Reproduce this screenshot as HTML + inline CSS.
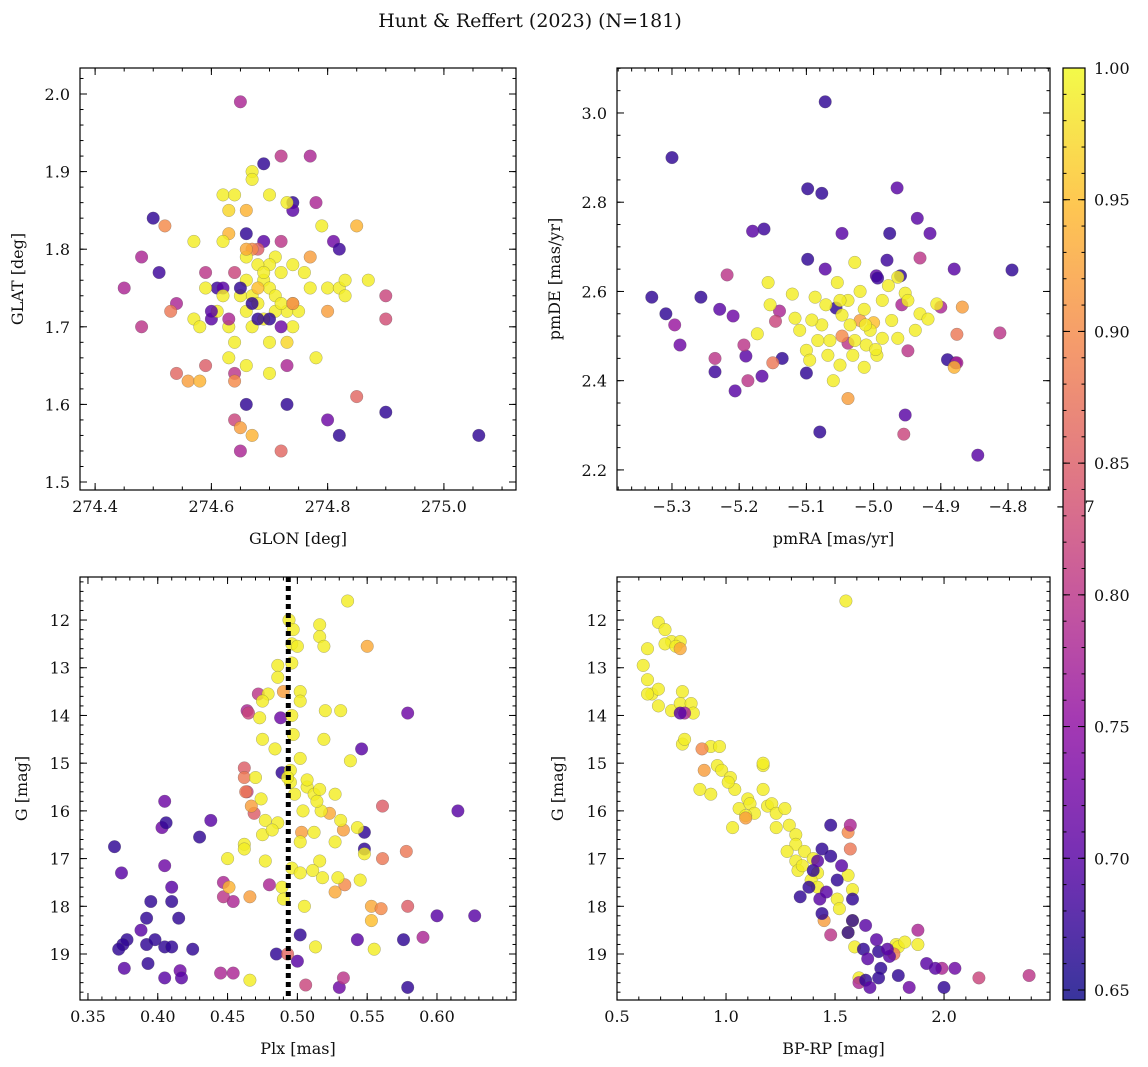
<!DOCTYPE html>
<html><head><meta charset="utf-8"><style>
html,body{margin:0;padding:0;background:#fff;}
svg{display:block;font-family:"DejaVu Serif","Liberation Serif",serif;}
</style></head><body>
<svg id="fig" width="1148" height="1067" viewBox="0 0 1148 1067" xmlns="http://www.w3.org/2000/svg">
<text x="530" y="27" font-size="19" text-anchor="middle" fill="#111">Hunt &amp; Reffert (2023) (N=181)</text>
</svg>
<script>
// ---- data (value arrays) ----
const glonGlat = [[274.65,1.99,0.78],[274.69,1.91,0.67],[274.72,1.92,0.80],[274.77,1.92,0.78],[274.74,1.86,0.67],[274.74,1.85,0.70],[274.78,1.86,0.78],[274.50,1.84,0.67],[274.52,1.83,0.90],[274.48,1.79,0.78],[274.45,1.75,0.78],[274.48,1.70,0.80],[274.51,1.77,0.68],[274.54,1.73,0.78],[274.53,1.72,0.88],[274.59,1.77,0.80],[274.61,1.75,0.68],[274.62,1.75,0.70],[274.60,1.71,0.70],[274.59,1.65,0.85],[274.54,1.64,0.86],[274.56,1.63,0.92],[274.58,1.63,0.94],[274.64,1.64,0.80],[274.64,1.63,0.90],[274.66,1.60,0.67],[274.64,1.58,0.82],[274.65,1.57,0.92],[274.67,1.56,0.94],[274.65,1.54,0.78],[274.72,1.54,0.86],[274.73,1.60,0.67],[274.73,1.65,0.78],[274.80,1.58,0.72],[274.82,1.56,0.67],[274.85,1.61,0.86],[274.90,1.59,0.67],[275.06,1.56,0.67],[274.90,1.71,0.83],[274.90,1.74,0.82],[274.85,1.83,0.94],[274.81,1.81,0.72],[274.82,1.80,0.68],[274.80,1.72,0.92],[274.77,1.79,0.92],[274.66,1.82,0.67],[274.69,1.81,0.70],[274.72,1.81,0.80],[274.68,1.80,0.85],[274.67,1.80,0.90],[274.66,1.85,0.94],[274.63,1.82,0.94],[274.63,1.85,0.97],[274.62,1.87,0.99],[274.64,1.87,0.99],[274.67,1.90,0.99],[274.67,1.89,0.99],[274.70,1.87,0.99],[274.73,1.86,0.99],[274.57,1.81,0.99],[274.62,1.81,0.99],[274.59,1.75,0.99],[274.57,1.71,0.99],[274.58,1.70,0.99],[274.63,1.70,0.99],[274.61,1.72,0.99],[274.64,1.68,0.99],[274.63,1.66,0.99],[274.66,1.65,0.99],[274.70,1.64,0.99],[274.70,1.68,0.99],[274.74,1.70,0.99],[274.73,1.72,0.99],[274.74,1.73,0.99],[274.77,1.75,0.99],[274.80,1.75,0.99],[274.82,1.75,0.99],[274.83,1.76,0.99],[274.83,1.74,0.99],[274.87,1.76,0.99],[274.79,1.83,0.99],[274.74,1.78,0.99],[274.76,1.77,0.99],[274.78,1.66,0.99],[274.71,1.79,0.99],[274.70,1.78,0.99],[274.68,1.78,0.99],[274.66,1.79,0.99],[274.66,1.76,0.99],[274.67,1.74,0.99],[274.69,1.76,0.99],[274.70,1.75,0.99],[274.71,1.74,0.99],[274.68,1.73,0.99],[274.66,1.72,0.99],[274.69,1.71,0.99],[274.71,1.72,0.99],[274.72,1.73,0.99],[274.69,1.77,0.99],[274.72,1.77,0.99],[274.65,1.74,0.99],[274.67,1.70,0.99],[274.62,1.74,0.99],[274.75,1.72,0.99],[274.73,1.68,0.97],[274.68,1.75,0.95],[274.66,1.80,0.93],[274.64,1.77,0.82],[274.68,1.71,0.67],[274.70,1.71,0.67],[274.65,1.75,0.67],[274.67,1.73,0.67],[274.72,1.70,0.72],[274.63,1.71,0.78],[274.60,1.72,0.70],[274.74,1.73,0.90]];

const pmraPmde = [[-5.30,2.90,0.67],[-5.072,3.025,0.67],[-5.098,2.83,0.67],[-5.077,2.82,0.67],[-5.163,2.74,0.68],[-5.18,2.735,0.70],[-5.047,2.73,0.70],[-4.976,2.73,0.67],[-4.935,2.764,0.70],[-4.965,2.832,0.70],[-4.916,2.73,0.70],[-4.794,2.648,0.67],[-5.33,2.587,0.67],[-5.309,2.55,0.67],[-5.257,2.587,0.67],[-5.229,2.56,0.70],[-5.209,2.545,0.72],[-5.288,2.48,0.72],[-5.236,2.42,0.68],[-5.19,2.455,0.70],[-5.206,2.377,0.70],[-5.166,2.41,0.70],[-5.08,2.285,0.67],[-4.98,2.67,0.68],[-4.96,2.635,0.67],[-4.996,2.635,0.70],[-5.072,2.65,0.70],[-5.098,2.672,0.67],[-5.056,2.563,0.67],[-4.953,2.323,0.70],[-4.845,2.233,0.70],[-4.89,2.447,0.67],[-4.878,2.44,0.70],[-4.88,2.65,0.70],[-4.994,2.63,0.68],[-5.10,2.417,0.67],[-5.136,2.45,0.67],
[-5.296,2.525,0.76],[-5.218,2.637,0.80],[-5.193,2.48,0.80],[-5.14,2.556,0.78],[-5.146,2.533,0.82],[-5.187,2.40,0.80],[-5.038,2.484,0.80],[-4.958,2.57,0.78],[-4.931,2.675,0.80],[-4.90,2.565,0.78],[-4.812,2.507,0.80],[-4.955,2.28,0.82],[-4.876,2.44,0.78],[-4.949,2.467,0.80],[-5.236,2.45,0.80],
[-5.15,2.44,0.88],[-5.038,2.36,0.92],[-4.868,2.565,0.92],[-4.876,2.504,0.88],[-4.88,2.43,0.94],[-5.047,2.50,0.90],[-5.02,2.535,0.92],[-5.00,2.53,0.95],
[-5.157,2.62,0.99],[-5.121,2.594,0.99],[-5.154,2.57,0.99],[-5.173,2.505,0.99],[-5.117,2.54,0.99],[-5.11,2.513,0.99],[-5.10,2.468,0.99],[-5.087,2.587,0.99],[-5.077,2.525,0.99],[-5.065,2.49,0.99],[-5.068,2.457,0.99],[-5.054,2.62,0.99],[-5.038,2.58,0.99],[-5.028,2.665,0.99],[-5.02,2.60,0.99],[-5.014,2.56,0.99],[-5.005,2.513,0.99],[-5.011,2.48,0.99],[-4.995,2.457,0.99],[-5.014,2.43,0.99],[-4.987,2.58,0.99],[-4.978,2.613,0.99],[-4.973,2.535,0.99],[-4.953,2.596,0.99],[-4.949,2.58,0.99],[-4.964,2.495,0.99],[-4.938,2.513,0.99],[-4.931,2.55,0.99],[-4.919,2.538,0.99],[-4.906,2.572,0.99],[-4.997,2.47,0.99],[-5.05,2.435,0.99],[-5.06,2.40,0.99],[-5.035,2.525,0.99],[-5.047,2.547,0.99],[-5.071,2.57,0.99],[-5.092,2.536,0.99],[-5.083,2.49,0.99],[-5.028,2.49,0.99],[-4.987,2.495,0.99],[-5.012,2.525,0.99],[-5.05,2.58,0.99],[-4.964,2.632,0.99],[-5.095,2.446,0.99],[-5.031,2.457,0.99]];

const plxG = [[0.369,16.75,0.67],[0.374,17.3,0.70],[0.405,15.8,0.72],[0.403,16.35,0.72],[0.406,16.25,0.67],[0.405,17.15,0.72],[0.41,17.6,0.70],[0.41,17.9,0.67],[0.395,17.9,0.67],[0.415,18.25,0.67],[0.392,18.25,0.67],[0.388,18.5,0.70],[0.392,18.8,0.67],[0.378,18.7,0.67],[0.375,18.8,0.67],[0.372,18.9,0.67],[0.376,19.3,0.70],[0.393,19.2,0.67],[0.398,18.7,0.67],[0.405,18.85,0.67],[0.41,18.85,0.67],[0.416,19.35,0.72],[0.417,19.5,0.70],[0.405,19.5,0.70],[0.425,18.9,0.67],[0.43,16.55,0.67],[0.438,16.2,0.70],[0.485,19.0,0.67],[0.502,18.6,0.67],[0.50,19.15,0.70],[0.53,19.7,0.72],[0.543,18.7,0.70],[0.548,16.45,0.67],[0.548,16.8,0.67],[0.546,14.7,0.70],[0.579,13.95,0.72],[0.579,19.7,0.67],[0.576,18.7,0.67],[0.60,18.2,0.70],[0.627,18.2,0.70],[0.615,16.0,0.70],[0.489,15.2,0.67],[0.488,14.05,0.72],
[0.454,19.4,0.78],[0.445,19.4,0.78],[0.447,17.5,0.78],[0.454,17.9,0.78],[0.447,17.8,0.80],[0.48,17.55,0.78],[0.472,13.55,0.80],[0.464,13.9,0.78],[0.465,13.95,0.82],[0.59,18.65,0.78],[0.506,19.65,0.82],[0.533,19.5,0.80],[0.464,15.6,0.82],
[0.462,15.1,0.85],[0.462,15.3,0.88],[0.463,15.6,0.88],[0.469,16.05,0.85],[0.451,17.6,0.94],[0.466,17.8,0.92],[0.55,12.55,0.93],[0.561,17.0,0.88],[0.561,15.9,0.85],[0.553,18.0,0.93],[0.553,18.3,0.95],[0.56,18.05,0.90],[0.578,16.85,0.88],[0.579,18.0,0.85],[0.493,19.0,0.86],[0.523,16.05,0.93],[0.533,16.4,0.92],[0.527,17.7,0.93],[0.534,17.55,0.90],[0.503,16.45,0.92],[0.467,15.9,0.92],[0.49,13.5,0.92],
[0.536,11.6,0.99],[0.494,12.0,0.99],[0.497,12.2,0.99],[0.496,12.5,0.99],[0.516,12.1,0.99],[0.516,12.35,0.99],[0.50,12.55,0.99],[0.496,12.9,0.99],[0.519,12.55,0.99],[0.486,12.95,0.99],[0.502,13.5,0.99],[0.486,13.2,0.99],[0.479,13.55,0.99],[0.502,13.7,0.99],[0.475,13.7,0.99],[0.496,14.0,0.99],[0.497,14.4,0.99],[0.52,13.9,0.99],[0.531,13.9,0.99],[0.519,14.5,0.99],[0.473,14.05,0.99],[0.502,14.9,0.99],[0.495,15.15,0.99],[0.495,15.4,0.99],[0.507,15.5,0.99],[0.512,15.65,0.99],[0.527,15.65,0.99],[0.516,15.55,0.99],[0.475,14.5,0.99],[0.484,14.7,0.99],[0.507,15.35,0.99],[0.517,16.0,0.99],[0.514,15.8,0.99],[0.504,16.0,0.99],[0.477,16.2,0.99],[0.486,16.25,0.99],[0.475,16.5,0.99],[0.462,16.7,0.99],[0.462,16.8,0.99],[0.477,17.05,0.99],[0.502,16.65,0.99],[0.512,16.45,0.99],[0.527,16.65,0.99],[0.516,17.05,0.99],[0.511,17.25,0.99],[0.518,17.4,0.99],[0.529,17.4,0.99],[0.543,16.35,0.99],[0.548,16.9,0.99],[0.555,18.9,0.99],[0.545,17.45,0.99],[0.513,18.85,0.99],[0.466,19.55,0.99],[0.505,18.0,0.99],[0.489,17.6,0.99],[0.49,17.85,0.99],[0.496,17.2,0.99],[0.502,17.3,0.99],[0.474,15.75,0.99],[0.482,16.4,0.99],[0.493,15.3,0.99],[0.498,15.65,0.99],[0.531,16.2,0.99],[0.538,14.95,0.99],[0.47,15.3,0.99],[0.45,17.0,0.99]];

const colorG = [[0.45,13.9,0.99],[0.62,12.95,0.99],[0.64,12.6,0.99],[0.69,12.05,0.99],[0.72,12.2,0.99],[0.75,12.45,0.99],[0.72,12.5,0.99],[0.79,12.45,0.99],[0.77,12.55,0.99],[0.64,13.25,0.99],[0.66,13.55,0.99],[0.69,13.45,0.99],[0.64,13.55,0.99],[0.69,13.8,0.99],[0.75,13.9,0.99],[0.79,13.75,0.99],[0.80,13.5,0.99],[0.84,13.75,0.99],[0.85,13.95,0.99],[0.80,14.6,0.99],[0.81,14.5,0.99],[0.93,14.65,0.99],[0.97,14.65,0.99],[0.96,15.05,0.99],[0.98,15.15,0.99],[1.02,15.3,0.99],[1.04,15.55,0.99],[1.10,15.75,0.99],[1.17,15.05,0.99],[1.17,15.0,0.99],[1.06,15.95,0.99],[1.11,15.85,0.99],[1.13,16.05,0.99],[1.19,15.9,0.99],[1.21,15.85,0.99],[1.23,16.05,0.99],[1.27,15.95,0.99],[1.23,16.35,0.99],[1.29,16.3,0.99],[1.32,16.5,0.99],[1.32,16.7,0.99],[1.36,16.85,0.99],[1.28,16.85,0.99],[1.32,17.05,0.99],[1.33,17.25,0.99],[1.35,17.15,0.99],[1.40,17.0,0.99],[1.42,17.3,0.99],[1.39,17.45,0.99],[1.42,17.6,0.99],[1.51,17.85,0.99],[1.52,18.05,0.99],[1.58,17.65,0.99],[1.56,17.35,0.99],[1.58,18.3,0.99],[1.56,18.55,0.99],[1.59,18.85,0.99],[1.78,18.8,0.99],[1.79,18.85,0.99],[1.82,18.75,0.99],[1.88,18.8,0.99],[1.61,19.5,0.99],[1.55,11.6,0.99],[1.01,15.4,0.99],[0.93,15.65,0.99],[0.88,15.55,0.99],[1.17,15.55,0.99],[1.09,16.1,0.99],[1.03,16.35,0.99],
[0.89,14.7,0.90],[0.90,15.15,0.92],[1.09,16.15,0.92],[0.79,12.6,0.93],[1.57,16.8,0.88],[1.45,18.3,0.92],[1.56,16.45,0.90],[1.77,19.0,0.88],
[0.81,13.95,0.78],[1.57,16.3,0.78],[1.88,18.5,0.78],[1.99,19.3,0.78],[2.16,19.5,0.82],[2.39,19.45,0.80],[1.48,18.6,0.80],[1.61,19.6,0.78],
[0.79,13.95,0.70],[1.48,16.3,0.67],[1.44,16.8,0.67],[1.40,17.25,0.67],[1.38,17.6,0.67],[1.43,17.85,0.70],[1.44,18.15,0.67],[1.34,17.8,0.67],[1.46,17.7,0.70],[1.58,18.3,0.67],[1.56,18.55,0.67],[1.64,18.4,0.70],[1.63,18.9,0.67],[1.65,19.1,0.70],[1.70,18.95,0.67],[1.69,18.7,0.70],[1.71,19.3,0.67],[1.75,19.05,0.70],[1.79,19.45,0.67],[1.84,19.7,0.72],[1.92,19.2,0.70],[1.96,19.3,0.70],[2.00,19.7,0.67],[2.05,19.3,0.72],[1.64,19.55,0.67],[1.66,19.7,0.70],[1.70,19.5,0.67],[1.74,18.9,0.70],[1.58,17.85,0.67],[1.51,17.45,0.67],[1.53,17.15,0.70],[1.48,16.95,0.67],[1.42,17.05,0.70]];

const glonTicks = [274.4,274.6,274.8,275.0];
const glatTicks = [1.5,1.6,1.7,1.8,1.9,2.0];
const pmraTicks = [-5.3,-5.2,-5.1,-5.0,-4.9,-4.8,-4.7];
const pmdeTicks = [2.2,2.4,2.6,2.8,3.0];
const plxTicks = [0.35,0.40,0.45,0.50,0.55,0.60];
const gTicks = [12,13,14,15,16,17,18,19];
const bprpTicks = [0.5,1.0,1.5,2.0];
const cbarTicks = [0.65,0.70,0.75,0.80,0.85,0.90,0.95,1.00];
const plxMedian = [0.4935];

// ---- rendering ----
const NS = "http://www.w3.org/2000/svg";
const svg = document.getElementById('fig');
const CMIN = 0.6462, CMAX = 1.0;
const plasma = [[13,8,135],[84,2,163],[139,10,165],[185,50,137],[219,92,104],[244,136,73],[254,188,43],[240,249,33]];
function cmap(v){
  let t = (v-CMIN)/(CMAX-CMIN); t=Math.max(0,Math.min(1,t));
  const s = t*(plasma.length-1); const i=Math.min(plasma.length-2,Math.floor(s)); const f=s-i;
  const c = plasma[i].map((a,k)=>Math.round(a+(plasma[i+1][k]-a)*f));
  return `rgb(${c[0]},${c[1]},${c[2]})`;
}
function el(tag, attrs, parent){
  const e=document.createElementNS(NS,tag);
  for(const k in attrs) e.setAttribute(k,attrs[k]);
  (parent||svg).appendChild(e); return e;
}
function fmt(v,d){ const s=Math.abs(v).toFixed(d); return (v<0?'\u2212':'')+s; }
const FS = 16;

function panel(cfg){
  const {name,x0,y0,x1,y1,xmin,xmax,ymin,ymax,invertY} = cfg;
  const sx = v => x0+(v-xmin)/(xmax-xmin)*(x1-x0);
  const sy = v => invertY ? y0+(v-ymin)/(ymax-ymin)*(y1-y0) : y1-(v-ymin)/(ymax-ymin)*(y1-y0);
  const g = el('g',{});
  
  
  const clip = el('clipPath',{id:'clip-'+name},g);
  el('rect',{x:x0,y:y0,width:x1-x0,height:y1-y0},clip);
  const marks = el('g',{'clip-path':'url(#clip-'+name+')'},g);
  cfg.data.forEach(d=>{
    const c = el('circle',{cx:sx(d[0]).toFixed(1),cy:sy(d[1]).toFixed(1),r:6.3,fill:cmap(d[2]),'fill-opacity':0.82,stroke:'#555','stroke-width':0.4,'stroke-opacity':0.6},marks);
    
    
  });
  if(cfg.vline){
    cfg.vline.forEach(v=>{
      const l = el('line',{x1:sx(v),x2:sx(v),y1:y0,y2:y1,stroke:'#000','stroke-width':5,'stroke-dasharray':'5,4'},marks);
      
      
    });
  }
  const fr = el('rect',{x:x0,y:y0,width:x1-x0,height:y1-y0,fill:'none',stroke:'#000','stroke-width':1.2},g);
  
  
  const tk = el('g',{stroke:'#000','stroke-width':1},g);
  const xMinorStep=cfg.xminor, yMinorStep=cfg.yminor;
  for(let v=Math.ceil(xmin/xMinorStep)*xMinorStep; v<=xmax+1e-9; v+=xMinorStep){
    const X=sx(v); el('line',{x1:X,x2:X,y1:y1,y2:y1-3.5},tk); el('line',{x1:X,x2:X,y1:y0,y2:y0+3.5},tk);
  }
  for(let v=Math.ceil(ymin/yMinorStep)*yMinorStep; v<=ymax+1e-9; v+=yMinorStep){
    const Y=sy(v); el('line',{x1:x0,x2:x0+3.5,y1:Y,y2:Y},tk); el('line',{x1:x1,x2:x1-3.5,y1:Y,y2:Y},tk);
  }
  cfg.xticks.forEach(v=>{
    const X=sx(v); el('line',{x1:X,x2:X,y1:y1,y2:y1-7},tk); el('line',{x1:X,x2:X,y1:y0,y2:y0+7},tk);
    const t=el('text',{x:X,y:y1+22,'font-size':FS,'text-anchor':'middle',fill:'#111'},g);
    t.textContent=fmt(v,cfg.xdec);
    
    
  });
  cfg.yticks.forEach(v=>{
    const Y=sy(v); el('line',{x1:x0,x2:x0+7,y1:Y,y2:Y},tk); el('line',{x1:x1,x2:x1-7,y1:Y,y2:Y},tk);
    const t=el('text',{x:x0-10,y:Y+6,'font-size':FS,'text-anchor':'end',fill:'#111'},g);
    t.textContent=fmt(v,cfg.ydec);
    
    
  });
  const xl=el('text',{x:(x0+x1)/2,y:y1+54,'font-size':FS,'text-anchor':'middle',fill:'#111'},g);
  xl.textContent=cfg.xlabel;
  
  
  const yx=cfg.ylx, yy=(y0+y1)/2;
  const yl=el('text',{x:yx,y:yy,'font-size':FS,'text-anchor':'middle',fill:'#111',transform:`rotate(-90 ${yx} ${yy})`},g);
  yl.textContent=cfg.ylabel;
  
  
}

panel({name:'glon-glat-panel',x0:80,y0:68,x1:516,y1:490,xmin:274.374,xmax:275.124,ymin:1.4897,ymax:2.0335,
  data:glonGlat,xticks:glonTicks,yticks:glatTicks,xdec:1,ydec:1,xminor:0.05,yminor:0.02,xlabel:'GLON [deg]',ylabel:'GLAT [deg]',ylx:23});
panel({name:'proper-motion-panel',x0:617,y0:68,x1:1050,y1:490,xmin:-5.3818,xmax:-4.7375,ymin:2.155,ymax:3.1008,
  data:pmraPmde,xticks:pmraTicks,yticks:pmdeTicks,xdec:1,ydec:1,xminor:0.02,yminor:0.05,xlabel:'pmRA [mas/yr]',ylabel:'pmDE [mas/yr]',ylx:560});
panel({name:'parallax-mag-panel',x0:80,y0:577,x1:516,y1:1000,xmin:0.3443,xmax:0.6566,ymin:11.098,ymax:19.964,invertY:true,
  data:plxG,xticks:plxTicks,yticks:gTicks,xdec:2,ydec:0,xminor:0.01,yminor:0.2,xlabel:'Plx [mas]',ylabel:'G [mag]',ylx:27,vline:plxMedian});
panel({name:'cmd-panel',x0:617,y0:577,x1:1050,y1:1000,xmin:0.4999,xmax:2.486,ymin:11.098,ymax:19.964,invertY:true,
  data:colorG,xticks:bprpTicks,yticks:gTicks,xdec:1,ydec:0,xminor:0.1,yminor:0.2,xlabel:'BP-RP [mag]',ylabel:'G [mag]',ylx:563});

// colorbar
(function(){
  const x0=1063,x1=1085,y0=68,y1=1000;
  const g=el('g',{});
  
  
  const defs=el('defs',{},g);
  const lg=el('linearGradient',{id:'cbgrad',x1:0,y1:1,x2:0,y2:0},defs);
  for(let i=0;i<=20;i++){ const v=CMIN+(CMAX-CMIN)*i/20; el('stop',{offset:(i/20),'stop-color':cmap(v),'stop-opacity':0.82},lg); }
  el('rect',{x:x0,y:y0,width:x1-x0,height:y1-y0,fill:'#fff'},g);
  el('rect',{x:x0,y:y0,width:x1-x0,height:y1-y0,fill:'url(#cbgrad)',stroke:'#000','stroke-width':1.2},g);
  const sy=v=>y1-(v-CMIN)/(CMAX-CMIN)*(y1-y0);
  for(let v=0.65; v<=1.0001; v+=0.01){ const Y=sy(v); el('line',{x1:x1,x2:x1-3.5,y1:Y,y2:Y,stroke:'#000'},g); el('line',{x1:x0,x2:x0+3.5,y1:Y,y2:Y,stroke:'#000'},g); }
  cbarTicks.forEach(v=>{
    const Y=sy(v); el('line',{x1:x1,x2:x1-7,y1:Y,y2:Y,stroke:'#000'},g); el('line',{x1:x0,x2:x0+7,y1:Y,y2:Y,stroke:'#000'},g);
    const t=el('text',{x:x1+9,y:Y+6,'font-size':FS,fill:'#111'},g);
    t.textContent=v.toFixed(2);
    
    
  });
})();
</script>
</body></html>
